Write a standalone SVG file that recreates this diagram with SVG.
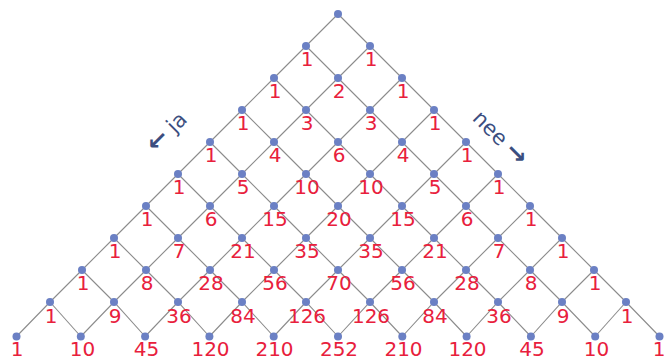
<svg xmlns="http://www.w3.org/2000/svg" width="664" height="360" viewBox="0 0 664 360">
<style>
.ln{fill:none;stroke:#8c8c8c;stroke-width:1.1}
.dot{fill:#6b80c4}
.v{font-family:"DejaVu Sans",Verdana,sans-serif;font-size:20px;fill:#e8203c;text-anchor:middle}
.lab{font-family:"DejaVu Sans",Verdana,sans-serif;font-size:21px;fill:#3b4e80;text-anchor:middle}
.arr{font-size:25px;font-weight:bold}
</style>
<rect width="664" height="360" fill="#fff"/>
<g id="connectors">
<polyline class="ln" points="338,14 306,46 274,78 242,110 210,142 178,174 146,206 114,238 82,270 50,302 16.5,336.5"/>
<polyline class="ln" points="370,46 338,78 306,110 274,142 242,174 210,206 178,238 146,270 114,302 80.8,336.5"/>
<polyline class="ln" points="402,78 370,110 338,142 306,174 274,206 242,238 210,270 178,302 145.1,336.5"/>
<polyline class="ln" points="434,110 402,142 370,174 338,206 306,238 274,270 242,302 209.4,336.5"/>
<polyline class="ln" points="466,142 434,174 402,206 370,238 338,270 306,302 273.7,336.5"/>
<polyline class="ln" points="498,174 466,206 434,238 402,270 370,302 338,336.5"/>
<polyline class="ln" points="530,206 498,238 466,270 434,302 402.3,336.5"/>
<polyline class="ln" points="562,238 530,270 498,302 466.6,336.5"/>
<polyline class="ln" points="594,270 562,302 530.9,336.5"/>
<polyline class="ln" points="626,302 595.2,336.5"/>
<polyline class="ln" points="338,14 370,46 402,78 434,110 466,142 498,174 530,206 562,238 594,270 626,302 659.5,336.5"/>
<polyline class="ln" points="306,46 338,78 370,110 402,142 434,174 466,206 498,238 530,270 562,302 595.2,336.5"/>
<polyline class="ln" points="274,78 306,110 338,142 370,174 402,206 434,238 466,270 498,302 530.9,336.5"/>
<polyline class="ln" points="242,110 274,142 306,174 338,206 370,238 402,270 434,302 466.6,336.5"/>
<polyline class="ln" points="210,142 242,174 274,206 306,238 338,270 370,302 402.3,336.5"/>
<polyline class="ln" points="178,174 210,206 242,238 274,270 306,302 338,336.5"/>
<polyline class="ln" points="146,206 178,238 210,270 242,302 273.7,336.5"/>
<polyline class="ln" points="114,238 146,270 178,302 209.4,336.5"/>
<polyline class="ln" points="82,270 114,302 145.1,336.5"/>
<polyline class="ln" points="50,302 80.8,336.5"/>
</g>
<g id="n0"><circle class="dot" cx="338" cy="14" r="4"/></g>
<g id="r1">
<g id="n1-0"><circle class="dot" cx="306" cy="46" r="4"/><text class="v" x="307" y="66">1</text></g>
<g id="n1-1"><circle class="dot" cx="370" cy="46" r="4"/><text class="v" x="371" y="66">1</text></g>
</g>
<g id="r2">
<g id="n2-0"><circle class="dot" cx="274" cy="78" r="4"/><text class="v" x="275" y="98">1</text></g>
<g id="n2-1"><circle class="dot" cx="338" cy="78" r="4"/><text class="v" x="339" y="98">2</text></g>
<g id="n2-2"><circle class="dot" cx="402" cy="78" r="4"/><text class="v" x="403" y="98">1</text></g>
</g>
<g id="r3">
<g id="n3-0"><circle class="dot" cx="242" cy="110" r="4"/><text class="v" x="243" y="130">1</text></g>
<g id="n3-1"><circle class="dot" cx="306" cy="110" r="4"/><text class="v" x="307" y="130">3</text></g>
<g id="n3-2"><circle class="dot" cx="370" cy="110" r="4"/><text class="v" x="371" y="130">3</text></g>
<g id="n3-3"><circle class="dot" cx="434" cy="110" r="4"/><text class="v" x="435" y="130">1</text></g>
</g>
<g id="r4">
<g id="n4-0"><circle class="dot" cx="210" cy="142" r="4"/><text class="v" x="211" y="162">1</text></g>
<g id="n4-1"><circle class="dot" cx="274" cy="142" r="4"/><text class="v" x="275" y="162">4</text></g>
<g id="n4-2"><circle class="dot" cx="338" cy="142" r="4"/><text class="v" x="339" y="162">6</text></g>
<g id="n4-3"><circle class="dot" cx="402" cy="142" r="4"/><text class="v" x="403" y="162">4</text></g>
<g id="n4-4"><circle class="dot" cx="466" cy="142" r="4"/><text class="v" x="467" y="162">1</text></g>
</g>
<g id="r5">
<g id="n5-0"><circle class="dot" cx="178" cy="174" r="4"/><text class="v" x="179" y="194">1</text></g>
<g id="n5-1"><circle class="dot" cx="242" cy="174" r="4"/><text class="v" x="243" y="194">5</text></g>
<g id="n5-2"><circle class="dot" cx="306" cy="174" r="4"/><text class="v" x="307" y="194">10</text></g>
<g id="n5-3"><circle class="dot" cx="370" cy="174" r="4"/><text class="v" x="371" y="194">10</text></g>
<g id="n5-4"><circle class="dot" cx="434" cy="174" r="4"/><text class="v" x="435" y="194">5</text></g>
<g id="n5-5"><circle class="dot" cx="498" cy="174" r="4"/><text class="v" x="499" y="194">1</text></g>
</g>
<g id="r6">
<g id="n6-0"><circle class="dot" cx="146" cy="206" r="4"/><text class="v" x="147" y="226">1</text></g>
<g id="n6-1"><circle class="dot" cx="210" cy="206" r="4"/><text class="v" x="211" y="226">6</text></g>
<g id="n6-2"><circle class="dot" cx="274" cy="206" r="4"/><text class="v" x="275" y="226">15</text></g>
<g id="n6-3"><circle class="dot" cx="338" cy="206" r="4"/><text class="v" x="339" y="226">20</text></g>
<g id="n6-4"><circle class="dot" cx="402" cy="206" r="4"/><text class="v" x="403" y="226">15</text></g>
<g id="n6-5"><circle class="dot" cx="466" cy="206" r="4"/><text class="v" x="467" y="226">6</text></g>
<g id="n6-6"><circle class="dot" cx="530" cy="206" r="4"/><text class="v" x="531" y="226">1</text></g>
</g>
<g id="r7">
<g id="n7-0"><circle class="dot" cx="114" cy="238" r="4"/><text class="v" x="115" y="258">1</text></g>
<g id="n7-1"><circle class="dot" cx="178" cy="238" r="4"/><text class="v" x="179" y="258">7</text></g>
<g id="n7-2"><circle class="dot" cx="242" cy="238" r="4"/><text class="v" x="243" y="258">21</text></g>
<g id="n7-3"><circle class="dot" cx="306" cy="238" r="4"/><text class="v" x="307" y="258">35</text></g>
<g id="n7-4"><circle class="dot" cx="370" cy="238" r="4"/><text class="v" x="371" y="258">35</text></g>
<g id="n7-5"><circle class="dot" cx="434" cy="238" r="4"/><text class="v" x="435" y="258">21</text></g>
<g id="n7-6"><circle class="dot" cx="498" cy="238" r="4"/><text class="v" x="499" y="258">7</text></g>
<g id="n7-7"><circle class="dot" cx="562" cy="238" r="4"/><text class="v" x="563" y="258">1</text></g>
</g>
<g id="r8">
<g id="n8-0"><circle class="dot" cx="82" cy="270" r="4"/><text class="v" x="83" y="290">1</text></g>
<g id="n8-1"><circle class="dot" cx="146" cy="270" r="4"/><text class="v" x="147" y="290">8</text></g>
<g id="n8-2"><circle class="dot" cx="210" cy="270" r="4"/><text class="v" x="211" y="290">28</text></g>
<g id="n8-3"><circle class="dot" cx="274" cy="270" r="4"/><text class="v" x="275" y="290">56</text></g>
<g id="n8-4"><circle class="dot" cx="338" cy="270" r="4"/><text class="v" x="339" y="290">70</text></g>
<g id="n8-5"><circle class="dot" cx="402" cy="270" r="4"/><text class="v" x="403" y="290">56</text></g>
<g id="n8-6"><circle class="dot" cx="466" cy="270" r="4"/><text class="v" x="467" y="290">28</text></g>
<g id="n8-7"><circle class="dot" cx="530" cy="270" r="4"/><text class="v" x="531" y="290">8</text></g>
<g id="n8-8"><circle class="dot" cx="594" cy="270" r="4"/><text class="v" x="595" y="290">1</text></g>
</g>
<g id="r9">
<g id="n9-0"><circle class="dot" cx="50" cy="302" r="4"/><text class="v" x="51" y="323">1</text></g>
<g id="n9-1"><circle class="dot" cx="114" cy="302" r="4"/><text class="v" x="115" y="323">9</text></g>
<g id="n9-2"><circle class="dot" cx="178" cy="302" r="4"/><text class="v" x="179" y="323">36</text></g>
<g id="n9-3"><circle class="dot" cx="242" cy="302" r="4"/><text class="v" x="243" y="323">84</text></g>
<g id="n9-4"><circle class="dot" cx="306" cy="302" r="4"/><text class="v" x="307" y="323">126</text></g>
<g id="n9-5"><circle class="dot" cx="370" cy="302" r="4"/><text class="v" x="371" y="323">126</text></g>
<g id="n9-6"><circle class="dot" cx="434" cy="302" r="4"/><text class="v" x="435" y="323">84</text></g>
<g id="n9-7"><circle class="dot" cx="498" cy="302" r="4"/><text class="v" x="499" y="323">36</text></g>
<g id="n9-8"><circle class="dot" cx="562" cy="302" r="4"/><text class="v" x="563" y="323">9</text></g>
<g id="n9-9"><circle class="dot" cx="626" cy="302" r="4"/><text class="v" x="627" y="323">1</text></g>
</g>
<g id="r10">
<g id="n10-0"><circle class="dot" cx="16.5" cy="336.5" r="4"/><text class="v" x="17" y="356">1</text></g>
<g id="n10-1"><circle class="dot" cx="80.8" cy="336.5" r="4"/><text class="v" x="82.5" y="356">10</text></g>
<g id="n10-2"><circle class="dot" cx="145.1" cy="336.5" r="4"/><text class="v" x="146.5" y="356">45</text></g>
<g id="n10-3"><circle class="dot" cx="209.4" cy="336.5" r="4"/><text class="v" x="210.5" y="356">120</text></g>
<g id="n10-4"><circle class="dot" cx="273.7" cy="336.5" r="4"/><text class="v" x="274.5" y="356">210</text></g>
<g id="n10-5"><circle class="dot" cx="338" cy="336.5" r="4"/><text class="v" x="339" y="356">252</text></g>
<g id="n10-6"><circle class="dot" cx="402.3" cy="336.5" r="4"/><text class="v" x="403.5" y="356">210</text></g>
<g id="n10-7"><circle class="dot" cx="466.6" cy="336.5" r="4"/><text class="v" x="467.5" y="356">120</text></g>
<g id="n10-8"><circle class="dot" cx="530.9" cy="336.5" r="4"/><text class="v" x="532" y="356">45</text></g>
<g id="n10-9"><circle class="dot" cx="595.2" cy="336.5" r="4"/><text class="v" x="596.5" y="356">10</text></g>
<g id="n10-10"><circle class="dot" cx="659.5" cy="336.5" r="4"/><text class="v" x="659" y="356">1</text></g>
</g>
<g id="label-ja"><text class="lab" transform="translate(167,132) rotate(-45)" y="7"><tspan class="arr">←</tspan> ja</text></g>
<g id="label-nee"><text class="lab" transform="translate(500,138) rotate(45)" y="7">nee <tspan class="arr">→</tspan></text></g>
</svg>
